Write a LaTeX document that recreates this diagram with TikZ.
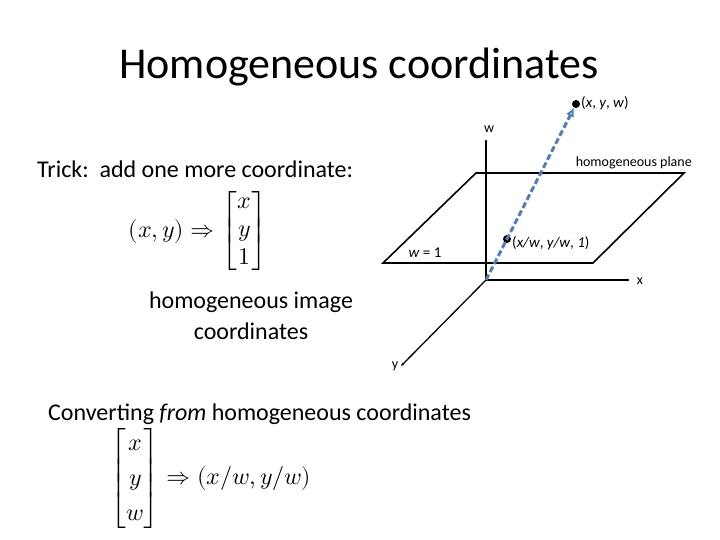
\documentclass[tikz,border=0pt]{standalone}
\usepackage{fontspec}
\setmainfont{Carlito}
\usepackage{amsmath}
\usepackage{unicode-math}
\setmathfont{Latin Modern Math}
\usetikzlibrary{arrows.meta}
\begin{document}
\begin{tikzpicture}[x=1pt,y=-1pt,
  ax/.style={line width=1.3pt,-{Latex[length=3pt,width=3pt]}},
  plane/.style={line width=1.6pt},
  lbl/.style={inner sep=1pt},
  dot/.style={circle,fill=black,inner sep=0pt,minimum size=8pt}]
\useasboundingbox (0,0) rectangle (720,540);
\node[lbl,font=\fontsize{44}{52}\selectfont] (title) at (359,67) {Homogeneous coordinates};
\node[lbl,anchor=west,font=\fontsize{24}{28}\selectfont] (trick) at (36,169) {Trick:\ \ add one more coordinate:};
\node[lbl,font=\fontsize{24}{28}\selectfont] (m1) at (198,231) {$(x,y)\Rightarrow\begin{bmatrix}x\\y\\1\end{bmatrix}$};
\node[lbl,align=center,font=\fontsize{24}{31}\selectfont] (hic) at (251,316) {homogeneous image\\coordinates};
\node[lbl,anchor=west,font=\fontsize{24}{28}\selectfont] (conv) at (47,414) {Converting \emph{from} homogeneous coordinates};
\node[lbl,font=\fontsize{24}{28}\selectfont] (m2) at (211,478) {\renewcommand{\arraystretch}{1.25}$\begin{bmatrix}x\\y\\w\end{bmatrix}\Rightarrow(x/w,y/w)$};
% plane
\coordinate (p1) at (476,173); \coordinate (p2) at (684,173);
\coordinate (p3) at (593,263); \coordinate (p4) at (383,263);
\draw[plane] (p1) -- (p2) -- (p3) -- (p4) -- cycle;
% axes
\coordinate (o) at (486,280);
\coordinate (wt) at (486,139); \coordinate (xt) at (630,280); \coordinate (yt) at (401,366);
\draw[ax] (o) -- (wt);
\draw[ax] (o) -- (xt);
\draw[ax] (o) -- (yt);
\node[lbl,font=\fontsize{14}{16}\selectfont] (wl) at (489,129) {w};
\node[lbl,font=\fontsize{14}{16}\selectfont] (xl) at (640,281) {x};
\node[lbl,font=\fontsize{14}{16}\selectfont] (yl) at (395,366) {y};
\node[lbl,anchor=east,font=\fontsize{14}{16}\selectfont] (hp) at (693,163) {homogeneous plane};
\node[lbl,font=\fontsize{15}{17}\selectfont] (w1) at (425,253) {\emph{w} = 1};
% points
\node[dot] (P) at (576,104) {};
\node[dot] (Q) at (507,239) {};
\node[lbl,anchor=west,font=\fontsize{15}{17}\selectfont] (Pl) at (580,103) {(\emph{x}, \emph{y}, \emph{w})};
\node[lbl,anchor=west,font=\fontsize{15}{17}\selectfont] (Ql) at (511,243) {(\emph{x/w}, \emph{y/w}, \emph{1})};
\draw[color={rgb,255:red,85;green,125;blue,175},line width=3pt,dash pattern=on 6pt off 3pt,-{Latex[length=9pt,width=9pt,open]}] (o) -- (P);
\end{tikzpicture}
\end{document}
